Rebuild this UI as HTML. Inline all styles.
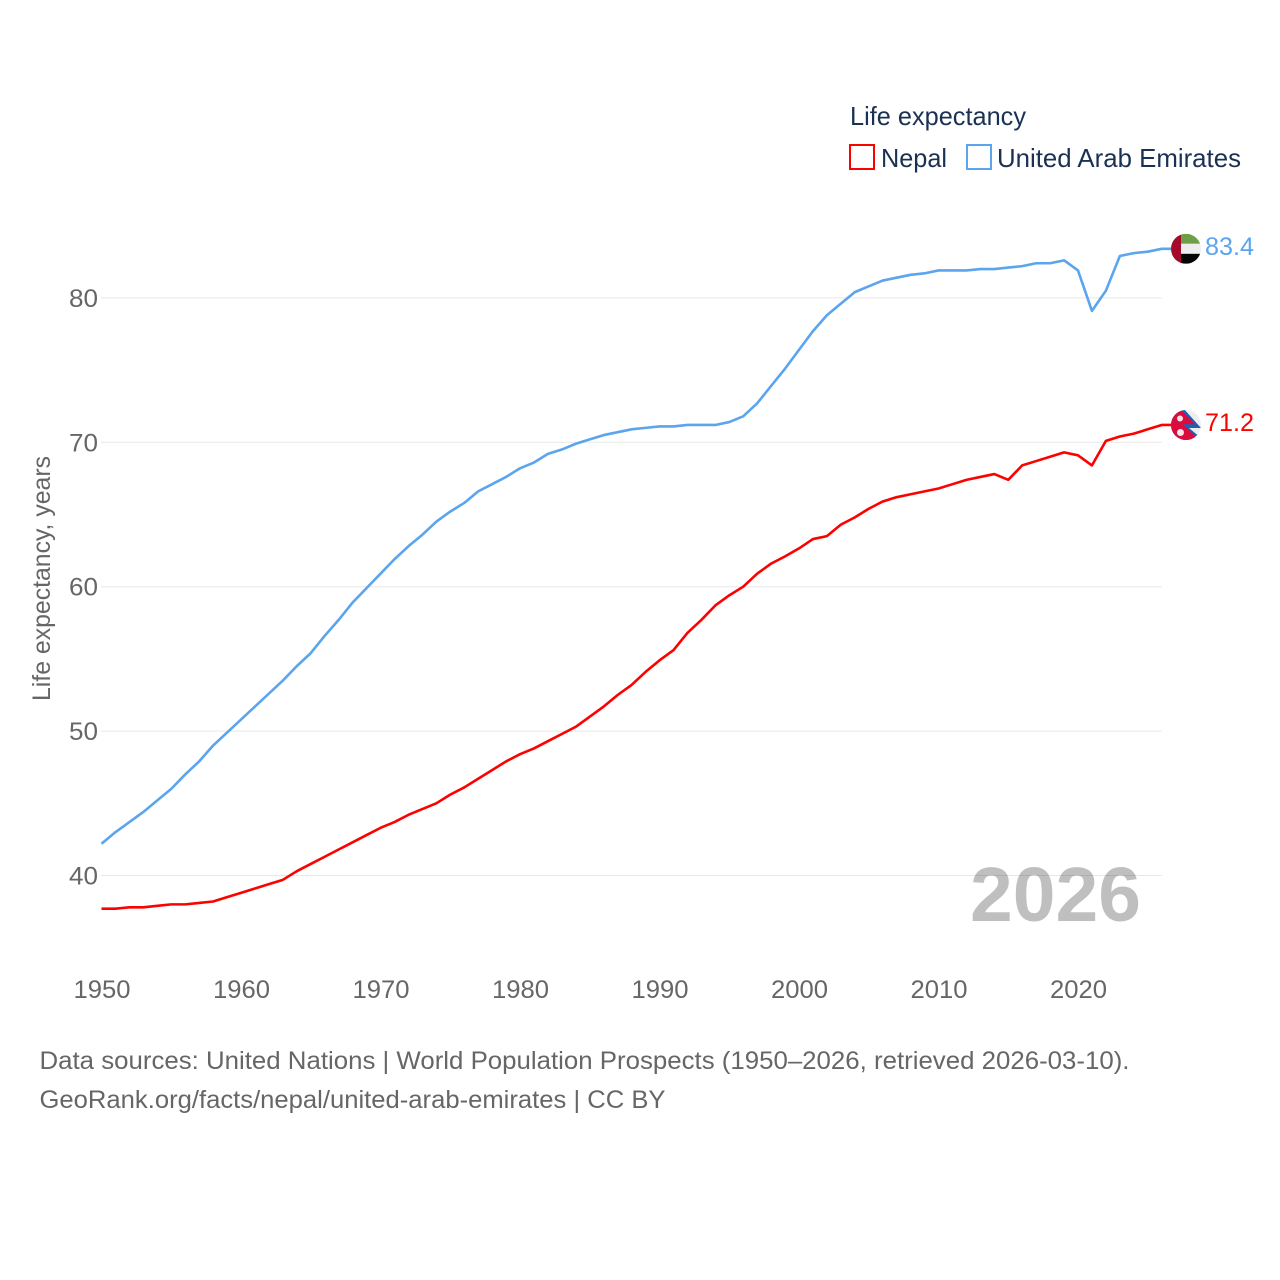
<!DOCTYPE html>
<html lang="en">
<head>
<meta charset="utf-8">
<title>Life expectancy: Nepal and United Arab Emirates</title>
<style>
html,body{margin:0;padding:0;background:#fff}
svg{display:block}
text{font-family:"Liberation Sans",sans-serif}
</style>
</head>
<body>
<svg id="chart" xmlns="http://www.w3.org/2000/svg" width="1280" height="1280" viewBox="0 0 1280 1280">
  <rect width="1280" height="1280" fill="#fff"/>
  <g id="grid"></g>
  <g id="y-ticks"></g>
  <g id="x-ticks"></g>
  <text transform="translate(50,701) rotate(-90)" font-size="25" fill="#666" textLength="245" lengthAdjust="spacingAndGlyphs">Life expectancy, years</text>

  <text x="970" y="921" font-size="77" font-weight="700" fill="#000" fill-opacity="0.25" textLength="171" lengthAdjust="spacingAndGlyphs">2026</text>

  <path id="line-uae" fill="none" stroke="#5ba4ee" stroke-width="2.6" stroke-linejoin="round"/>
  <path id="line-nepal" fill="none" stroke="#ff0000" stroke-width="2.6" stroke-linejoin="round"/>

  <defs>
    <clipPath id="clip-uae"><circle cx="0" cy="0" r="15"/></clipPath>
    <clipPath id="clip-nepal"><circle cx="0" cy="0" r="15"/></clipPath>
  </defs>

  <g id="flag-uae">
    <g clip-path="url(#clip-uae)">
      <rect x="-15" y="-15" width="30" height="10" fill="#6f9f45"/>
      <rect x="-15" y="-5" width="30" height="10" fill="#eeeeee"/>
      <rect x="-15" y="5" width="30" height="10" fill="#050505"/>
      <rect x="-15" y="-15" width="10" height="30" fill="#a50a2d"/>
    </g>
  </g>
  <g id="flag-nepal">
    <g clip-path="url(#clip-nepal)">
      <rect x="-15" y="-15" width="30" height="30" fill="#eeeeee"/>
      <polygon points="-16,-20 -3,-17 15,3 3,3 15,13 11,16 -16,16" fill="#1f5fb5"/>
      <polygon points="-16,-18 -5,-15 9,-0.7 -3,-0.7 11,13.5 9,16 -16,16" fill="#d80c3e"/>
      <circle cx="-6" cy="-6.5" r="3" fill="#f6e4e8"/>
      <circle cx="-5.5" cy="7.5" r="3.5" fill="#f6e4e8"/>
    </g>
  </g>

  <text id="label-uae" x="1205" y="254" font-size="25" fill="#5ba4ee" textLength="49" lengthAdjust="spacingAndGlyphs">83.4</text>
  <text id="label-nepal" x="1205" y="431" font-size="25" fill="#ff0000" textLength="49" lengthAdjust="spacingAndGlyphs">71.2</text>

  <g>
    <text x="850" y="125" font-size="26" fill="#1b3154" textLength="176" lengthAdjust="spacingAndGlyphs">Life expectancy</text>
    <g>
      <rect x="850" y="145" width="24" height="24" fill="none" stroke="#ff0000" stroke-width="2"/>
      <text x="881" y="167" font-size="26" fill="#1b3154" textLength="66" lengthAdjust="spacingAndGlyphs">Nepal</text>
    </g>
    <g>
      <rect x="967" y="145" width="24" height="24" fill="none" stroke="#5ba4ee" stroke-width="2"/>
      <text x="997" y="167" font-size="26" fill="#1b3154" textLength="244" lengthAdjust="spacingAndGlyphs">United Arab Emirates</text>
    </g>
  </g>

  <text x="39.5" y="1069" font-size="25" fill="#666" textLength="1090" lengthAdjust="spacingAndGlyphs">Data sources: United Nations | World Population Prospects (1950–2026, retrieved 2026-03-10).</text>
  <text x="39.5" y="1108" font-size="25" fill="#666" textLength="626" lengthAdjust="spacingAndGlyphs">GeoRank.org/facts/nepal/united-arab-emirates | CC BY</text>
</svg>
<script>
const startYear = 1950;
const xTickLabels = [1950, 1960, 1970, 1980, 1990, 2000, 2010, 2020];
const yTickLabels = [40, 50, 60, 70, 80];
const nepalValues = [37.7,37.7,37.8,37.8,37.9,38.0,38.0,38.1,38.2,38.5,38.8,39.1,39.4,39.7,40.3,40.8,41.3,41.8,42.3,42.8,43.3,43.7,44.2,44.6,45.0,45.6,46.1,46.7,47.3,47.9,48.4,48.8,49.3,49.8,50.3,51.0,51.7,52.5,53.2,54.1,54.9,55.6,56.8,57.7,58.7,59.4,60.0,60.9,61.6,62.1,62.65,63.3,63.5,64.3,64.8,65.4,65.9,66.2,66.4,66.6,66.8,67.1,67.4,67.6,67.8,67.4,68.4,68.7,69.0,69.3,69.1,68.4,70.1,70.4,70.6,70.9,71.2];
const uaeValues = [42.2,43.0,43.7,44.4,45.2,46.0,47.0,47.9,49.0,49.9,50.8,51.7,52.6,53.5,54.5,55.4,56.6,57.7,58.9,59.9,60.9,61.9,62.8,63.6,64.5,65.2,65.8,66.6,67.1,67.6,68.2,68.6,69.2,69.5,69.9,70.2,70.5,70.7,70.9,71.0,71.1,71.1,71.2,71.2,71.2,71.4,71.8,72.7,73.9,75.1,76.4,77.7,78.8,79.6,80.4,80.8,81.2,81.4,81.6,81.7,81.9,81.9,81.9,82.0,82.0,82.1,82.2,82.4,82.4,82.6,81.9,79.1,80.5,82.9,83.1,83.2,83.4];

const svgNS = 'http://www.w3.org/2000/svg';
const xScale = year => 101.5 + (year - 1950) * 13.95;
const yScale = value => 875.5 - (value - 40) * 14.44;
const lastX = xScale(startYear + nepalValues.length - 1);
const flagX = 1186;

function linePath(values) {
  let d = '';
  values.forEach((v, i) => {
    d += (i ? 'L' : 'M') + xScale(startYear + i).toFixed(2) + ' ' + yScale(v).toFixed(2);
  });
  d += 'L' + (flagX - 10) + ' ' + yScale(values[values.length - 1]).toFixed(2);
  return d;
}
document.getElementById('line-nepal').setAttribute('d', linePath(nepalValues));
document.getElementById('line-uae').setAttribute('d', linePath(uaeValues));

const grid = document.getElementById('grid');
const yTicks = document.getElementById('y-ticks');
const xTicks = document.getElementById('x-ticks');

yTickLabels.forEach(v => {
  const line = document.createElementNS(svgNS, 'line');
  
  
  line.setAttribute('x1', 101);
  line.setAttribute('x2', lastX);
  line.setAttribute('y1', yScale(v));
  line.setAttribute('y2', yScale(v));
  line.setAttribute('stroke', '#e8e8e8');
  line.setAttribute('stroke-width', '1');
  grid.appendChild(line);

  const t = document.createElementNS(svgNS, 'text');
  
  
  t.setAttribute('x', 69);
  t.setAttribute('y', yScale(v) + 9);
  t.setAttribute('font-size', '25');
  t.setAttribute('fill', '#666');
  t.setAttribute('textLength', '29');
  t.setAttribute('lengthAdjust', 'spacingAndGlyphs');
  t.textContent = v;
  yTicks.appendChild(t);
});

xTickLabels.forEach(y => {
  const t = document.createElementNS(svgNS, 'text');
  
  
  t.setAttribute('x', xScale(y) - 28);
  t.setAttribute('y', 998);
  t.setAttribute('font-size', '25');
  t.setAttribute('fill', '#666');
  t.setAttribute('textLength', '57');
  t.setAttribute('lengthAdjust', 'spacingAndGlyphs');
  t.textContent = y;
  xTicks.appendChild(t);
});

function placeEnd(flagId, labelId, values) {
  const y = yScale(values[values.length - 1]);
  document.getElementById(flagId).setAttribute('transform', 'translate(' + flagX + ',' + y + ')');
  document.getElementById(labelId).setAttribute('y', y + 6);
  document.getElementById(labelId).textContent = values[values.length - 1].toFixed(1);
}
placeEnd('flag-uae', 'label-uae', uaeValues);
placeEnd('flag-nepal', 'label-nepal', nepalValues);
</script>
</body>
</html>
